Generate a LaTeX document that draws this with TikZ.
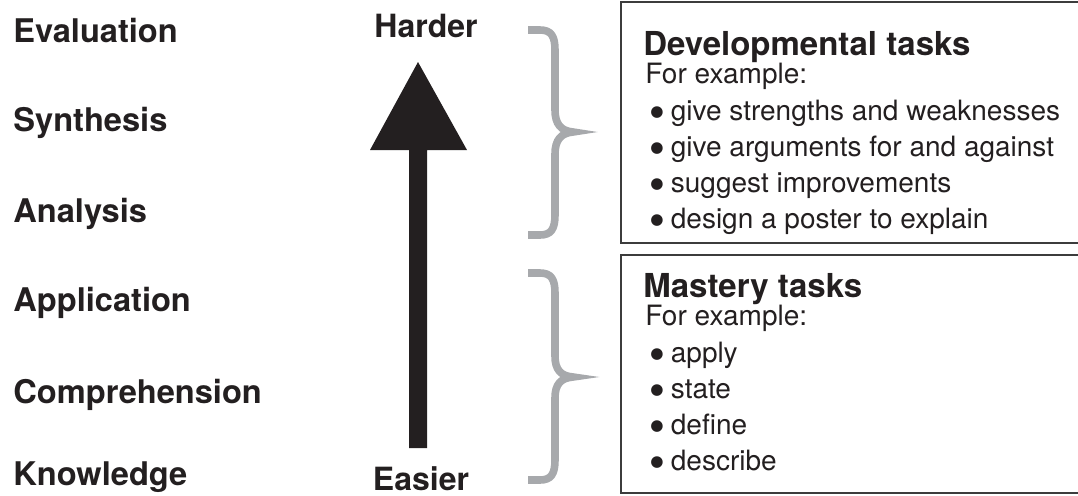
\documentclass[tikz,border=0pt]{standalone}
\usepackage{fontspec}
\setmainfont{TeX Gyre Heros}
\newfontfamily\dotfont{DejaVu Sans}
\newcommand{\itemdot}{{\dotfont\fontsize{7.6}{8}\selectfont\raisebox{1.9pt}{●}}\hspace{3.6pt}}
\begin{document}
\begin{tikzpicture}[x=0.5pt,y=-0.5pt,
  ink/.style={text=inkc},
  level/.style={anchor=base west,inner sep=0pt,font=\fontsize{16.3}{19}\selectfont\bfseries,ink},
  endlabel/.style={anchor=base,inner sep=0pt,font=\fontsize{16}{19}\selectfont\bfseries,ink},
  heading/.style={anchor=base west,inner sep=0pt,font=\fontsize{16.5}{19}\selectfont\bfseries,ink},
  body/.style={anchor=base west,inner sep=0pt,font=\fontsize{14}{17}\selectfont,ink},
  taskbox/.style={draw=boxc,line width=0.85pt},
  bracket/.style={draw=bracec,line width=3.8pt,line join=miter,miter limit=20},
  bigarrow/.style={fill=inkc,draw=none}]
\definecolor{inkc}{HTML}{231F20}
\definecolor{boxc}{HTML}{3C3C3C}
\definecolor{bracec}{HTML}{A7A9AC}
\useasboundingbox (0,0) rectangle (1078,495);
\clip (0,0) rectangle (1078,495);

% levels of thinking, hardest at the top
\node[level] (eval) at (13,42)  {Evaluation};
\node[level] (synt) at (13,131) {Synthesis};
\node[level] (anal) at (13,222) {Analysis};
\node[level] (appl) at (13,311) {Application};
\node[level] (comp) at (13,403) {Comprehension};
\node[level] (know) at (13,485) {Knowledge};

% difficulty arrow
\node[endlabel] (harder) at (426,37)  {Harder};
\node[endlabel] (easier) at (421,490) {Easier};
\path[bigarrow] (418,62) -- (467,150) -- (427,150) -- (427,448)
  -- (409,448) -- (409,150) -- (370,150) -- cycle;

% curly brackets grouping the levels
\draw[bracket] (528,30) -- (540,30) .. controls (551,30) and (555,36) .. (555,50)
  -- (555,110) .. controls (555,124) and (561,131) .. (573,132)
  .. controls (561,133) and (555,140) .. (555,154) -- (555,215)
  .. controls (555,229) and (551,235) .. (540,235) -- (528,235);
\draw[bracket] (528,273) -- (540,273) .. controls (551,273) and (555,279) .. (555,293)
  -- (555,356) .. controls (555,370) and (561,376) .. (573,377)
  .. controls (561,378) and (555,384) .. (555,398) -- (555,460)
  .. controls (555,474) and (551,480) .. (540,480) -- (528,480);

% developmental tasks
\draw[taskbox] (1090,2) -- (621,2) -- (621,243) -- (1090,243);
\node[heading] (devh) at (643,55)  {Developmental tasks};
\node[body]    (devx) at (645,83)  {For example:};
\node[body]    (dev1) at (650,120) {\itemdot give strengths and weaknesses};
\node[body]    (dev2) at (650,156) {\itemdot give arguments for and against};
\node[body]    (dev3) at (650,192) {\itemdot suggest improvements};
\node[body]    (dev4) at (650,228) {\itemdot design a poster to explain};

% mastery tasks
\draw[taskbox] (1090,255) -- (621,255) -- (621,493) -- (1090,493);
\node[heading] (masth) at (643,297) {Mastery tasks};
\node[body]    (mastx) at (645,325) {For example:};
\node[body]    (mast1) at (650,362) {\itemdot apply};
\node[body]    (mast2) at (650,398) {\itemdot state};
\node[body]    (mast3) at (650,434) {\itemdot define};
\node[body]    (mast4) at (650,470) {\itemdot describe};
\end{tikzpicture}
\end{document}
